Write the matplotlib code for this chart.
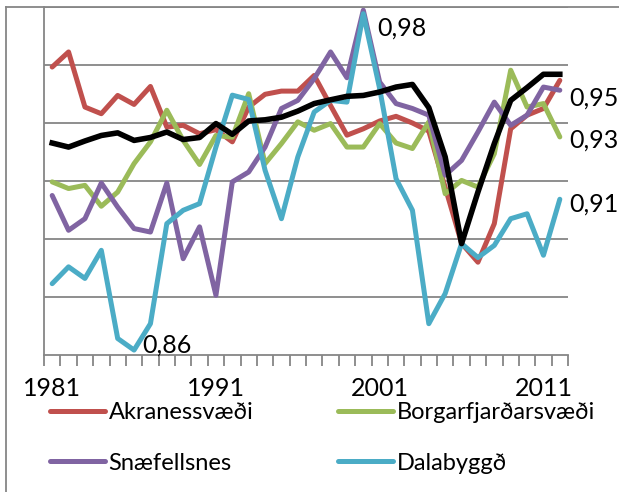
import matplotlib
matplotlib.use("Agg")
import matplotlib.pyplot as plt
from matplotlib.lines import Line2D
from matplotlib.ticker import FixedLocator, NullFormatter

plt.rcParams['font.family'] = ['Lato', 'DejaVu Sans']

# --- Gögn
years = list(range(1981, 2013))
akranes = [0.9593, 0.9645, 0.9455, 0.9432, 0.9495, 0.9464, 0.9526, 0.9386, 0.9392, 0.9363,
           0.9377, 0.9335, 0.9455, 0.9499, 0.9510, 0.9510, 0.9564, 0.9460, 0.9358, 0.9380,
           0.9407, 0.9423, 0.9400, 0.9372, 0.9178, 0.8985, 0.8920, 0.9053, 0.9380, 0.9427,
           0.9450, 0.9547]
borgarfj = [0.9197, 0.9174, 0.9185, 0.9113, 0.9162, 0.9260, 0.9335, 0.9444, 0.9340, 0.9257,
            0.9357, 0.9351, 0.9501, 0.9260, 0.9329, 0.9404, 0.9375, 0.9398, 0.9317, 0.9317,
            0.9398, 0.9331, 0.9312, 0.9404, 0.9156, 0.9202, 0.9179, 0.9294, 0.9582, 0.9455,
            0.9467, 0.9352]
snaefellsnes = [0.9150, 0.9030, 0.9070, 0.9193, 0.9110, 0.9036, 0.9024, 0.9193, 0.8932, 0.9042,
                0.8806, 0.9197, 0.9231, 0.9317, 0.9450, 0.9478, 0.9553, 0.9645, 0.9556, 0.9789,
                0.9541, 0.9467, 0.9450, 0.9427, 0.9220, 0.9271, 0.9369, 0.9472, 0.9392, 0.9427,
                0.9524, 0.9513]
dalabyggd = [0.8846, 0.8904, 0.8864, 0.8961, 0.8657, 0.8617, 0.8708, 0.9053, 0.9099, 0.9122,
             0.9317, 0.9496, 0.9481, 0.9237, 0.9070, 0.9283, 0.9438, 0.9478, 0.9472, 0.9777,
             0.9518, 0.9208, 0.9099, 0.8708, 0.8812, 0.8984, 0.8936, 0.8978, 0.9070, 0.9087,
             0.8944, 0.9137]
heild = [0.9331, 0.9317, 0.9338, 0.9357, 0.9366, 0.9340, 0.9350, 0.9369, 0.9343, 0.9350,
         0.9398, 0.9361, 0.9407, 0.9411, 0.9420, 0.9441, 0.9467, 0.9480, 0.9492, 0.9495,
         0.9507, 0.9524, 0.9533, 0.9453, 0.9283, 0.8984, 0.9162, 0.9329, 0.9478, 0.9522,
         0.9568, 0.9568]

# --- Teikning
fig = plt.figure(figsize=(6.19, 4.92), dpi=100)
ax = fig.add_axes([44/619, 1 - 355/492, (568 - 44)/619, (355 - 7)/492])

lw = 3.6
stil = dict(lw=lw, clip_on=False, solid_joinstyle='round', solid_capstyle='round')
l1, = ax.plot(years, akranes, color="#C0504D", label="Akranessvæði", **stil)
l2, = ax.plot(years, borgarfj, color="#9BBB59", label="Borgarfjarðarsvæði", **stil)
l3, = ax.plot(years, snaefellsnes, color="#8064A2", label="Snæfellsnes", **stil)
l4, = ax.plot(years, dalabyggd, color="#4BACC6", label="Dalabyggð", **stil)
ax.plot(years, heild, color="black", lw=4.0, clip_on=False, solid_joinstyle='round')

ax.set_xlim(1980.5, 2012.5)
ax.set_ylim(0.86, 0.98)
ax.set_yticks([0.88, 0.90, 0.92, 0.94, 0.96, 0.98])
ax.yaxis.grid(True, color="#868686", lw=1.3)
ax.set_axisbelow(True)
ax.tick_params(axis='y', left=False, labelleft=False)

ax.set_xticks([1981, 1991, 2001, 2011])
ax.xaxis.set_minor_locator(FixedLocator([y + 0.5 for y in range(1980, 2013)]))
ax.xaxis.set_minor_formatter(NullFormatter())
ax.tick_params(axis='x', which='major', length=0, pad=16, labelsize=18)
ax.tick_params(axis='x', which='minor', length=8, width=1.3, color="#868686", direction='out')

for s in ['top', 'right']:
    ax.spines[s].set_visible(False)
for s in ['left', 'bottom']:
    ax.spines[s].set_color("#868686")
    ax.spines[s].set_linewidth(1.3)

# merkingar
fs = 18
ax.text(2000.85, 0.9728, "0,98", fontsize=fs, va='center', ha='left')
ax.text(2012.6, 0.9485, "0,95", fontsize=fs, va='center', ha='left', clip_on=False)
ax.text(2012.6, 0.9340, "0,93", fontsize=fs, va='center', ha='left', clip_on=False)
ax.text(2012.6, 0.9120, "0,91", fontsize=fs, va='center', ha='left', clip_on=False)
ax.text(1986.5, 0.8635, "0,86", fontsize=fs, va='center', ha='left')

# rammi
fig.add_artist(Line2D([6/619, 6/619], [0, 1 - 7/492], color="#868686", lw=1.3))
fig.add_artist(Line2D([6/619, 1], [1 - 7/492, 1 - 7/492], color="#868686", lw=1.3))

fig.legend(handles=[l1, l3, l2, l4], loc='upper left', bbox_to_anchor=(50/619, 1 - 402/492),
           ncol=2, frameon=False, fontsize=17, handlelength=2.33, handletextpad=0.15,
           labelspacing=1.25, columnspacing=3.6, borderaxespad=0, borderpad=0)

fig.savefig("out.png", dpi=100)
